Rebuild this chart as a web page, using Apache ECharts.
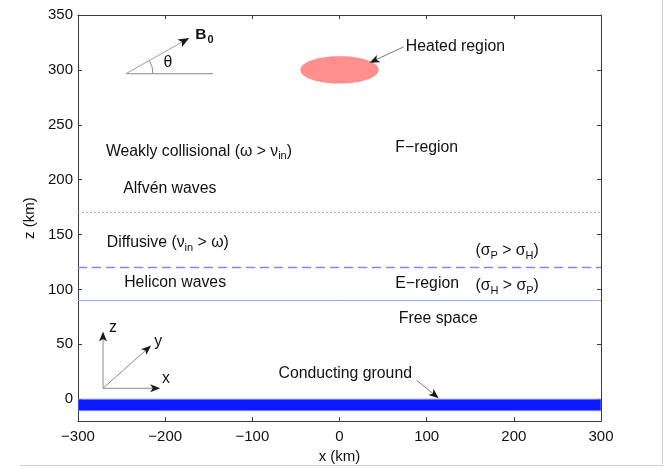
<!DOCTYPE html>
<html><head><meta charset="utf-8">
<script src="https://cdn.jsdelivr.net/npm/echarts@6/dist/echarts.min.js"></script>
<style>html,body{margin:0;padding:0;background:#fff}#c{width:664px;height:469px}</style>
</head><body><div id="c"></div>
<script>
// ---- data ----
const xTicks = [-300, -200, -100, 0, 100, 200, 300];
const zTicks = [0, 50, 100, 150, 200, 250, 300, 350];
const xRange = [-300, 300];
const zRange = [-20, 350];
const boundaryDotted = [170];   // km
const boundaryDashed = [120];
const boundarySolid = [90];
const groundBand = [-10.5, 0];   // z extent of conducting ground (km)
const heatedCenter = [0, 300];
const heatedRadii = [45, 12.5];
const annoX = [-268, -248, -267, -247, 64, 156, 64, 156, 68, -70, 76, -202];
const annoZ = [227.6, 192.2, 144.1, 106.1, 229.4, 136.9, 105.1, 105.1, 73.4, 23.5, 321, 306.5];
const annoText = [
  'Weakly collisional (ω > ν{s|in})',
  'Alfvén waves',
  'Diffusive (ν{s|in} > ω)',
  'Helicon waves',
  'F−region',
  '(σ{s|P} > σ{s|H})',
  'E−region',
  '(σ{s|H} > σ{s|P})',
  'Free space',
  'Conducting ground',
  'Heated region',
  'θ'
];
const bLabel = [-165.5, 334];
// arrows: [x1, z1, x2, z2]
const bArrow = [[-245, 296.5, -172.4, 329.1]];
const pointerArrows = [[73.6, 321, 34.5, 306.5], [88.5, 17.2, 113.8, 0.9]];
const triadArrows = [[-271.3, 9.9, -271.3, 61.6], [-271.3, 9.9, -216.1, 48.9], [-271.3, 9.9, -205.7, 9.9]];
const triadLabelX = [-259.8, -208, -199];
const triadLabelZ = [65.2, 52.5, 19];
const triadLabelText = ['z', 'y', 'x'];
const refLine = [[-245, 296.5, -145, 296.5]];

const FONT = '"Liberation Sans", Arial, Helvetica, sans-serif';
const TXT = 15.8;
const minus = v => String(v).replace('-', '−');

function arrowItem(lineColor, hl, hw) {
  return function (params, api) {
    const p1 = api.coord([api.value(0), api.value(1)]);
    const p2 = api.coord([api.value(2), api.value(3)]);
    const dx = p2[0] - p1[0], dy = p2[1] - p1[1];
    const L = Math.hypot(dx, dy), ux = dx / L, uy = dy / L;
    const bx = p2[0] - ux * hl, by = p2[1] - uy * hl;
    const nx = p2[0] - ux * hl * 0.75, ny = p2[1] - uy * hl * 0.75;
    return { type: 'group', children: [
      { type: 'line', shape: { x1: p1[0], y1: p1[1], x2: nx, y2: ny }, style: { stroke: lineColor, lineWidth: 1 } },
      { type: 'polygon', shape: { points: [[p2[0], p2[1]], [bx - uy * hw, by + ux * hw], [nx, ny], [bx + uy * hw, by - ux * hw]] }, style: { fill: '#1a1a1a' } }
    ] };
  };
}

const richSub = {
  s: { fontSize: 11, fontFamily: FONT, padding: [10, 0, 0, 0], fill: '#111' }
};

function boundarySeries(z, color, dash, width) {
  return { type: 'custom', silent: true, clip: false,
    data: [[xRange[0], z, xRange[1], z]], encode: { x: [0, 2], y: [1, 3] },
    renderItem: (params, api) => {
      const a = api.coord([api.value(0), api.value(1)]);
      const b = api.coord([api.value(2), api.value(3)]);
      const y = Math.round(a[1] - 0.5) + 0.5;
      return { type: 'line', shape: { x1: a[0], y1: y, x2: b[0], y2: y },
        style: { stroke: color, lineWidth: width, lineDash: dash } };
    } };
}

const chart = echarts.init(document.getElementById('c'));
const axisLineStyle = { color: '#3a3a3a', width: 1 };
chart.setOption({
  animation: false,
  backgroundColor: '#fff',
  grid: { left: 78, right: 63, top: 15, bottom: 46, containLabel: false },
  xAxis: [{
    type: 'value', min: xRange[0], max: xRange[1], interval: 100, position: 'bottom',
    axisLine: { show: true, onZero: false, lineStyle: axisLineStyle },
    axisTick: { inside: true, length: 4, lineStyle: axisLineStyle },
    axisLabel: { formatter: minus, fontSize: 15, color: '#111', margin: 8, fontFamily: FONT },
    splitLine: { show: false },
    name: 'x (km)', nameLocation: 'middle', nameGap: 26,
    nameTextStyle: { fontSize: 15, color: '#111', fontFamily: FONT }
  }, {
    type: 'value', min: xRange[0], max: xRange[1], interval: 100, position: 'top',
    axisLine: { show: true, onZero: false, lineStyle: axisLineStyle },
    axisTick: { inside: true, length: 4, lineStyle: axisLineStyle },
    axisLabel: { show: false }, splitLine: { show: false }
  }],
  yAxis: [{
    type: 'value', min: zRange[0], max: zRange[1], position: 'left',
    axisLine: { show: true, onZero: false, lineStyle: axisLineStyle },
    axisTick: { inside: true, length: 4, lineStyle: axisLineStyle, customValues: zTicks },
    axisLabel: { fontSize: 15, color: '#111', margin: 5, fontFamily: FONT, customValues: zTicks },
    splitLine: { show: false },
    name: 'z (km)', nameLocation: 'middle', nameGap: 36,
    nameTextStyle: { fontSize: 15, color: '#111', fontFamily: FONT }
  }, {
    type: 'value', min: zRange[0], max: zRange[1], position: 'right',
    axisLine: { show: true, onZero: false, lineStyle: axisLineStyle },
    axisTick: { inside: true, length: 4, lineStyle: axisLineStyle, customValues: zTicks },
    axisLabel: { show: false }, splitLine: { show: false }
  }],
  graphic: [
    { type: 'line', shape: { x1: 662.5, y1: 0, x2: 662.5, y2: 465.5 }, style: { stroke: '#cfcfcf', lineWidth: 1 } },
    { type: 'line', shape: { x1: 20, y1: 465.5, x2: 662.5, y2: 465.5 }, style: { stroke: '#cfcfcf', lineWidth: 1 } }
  ],
  series: [
    boundarySeries(boundaryDotted[0], '#9090ff', [1.5, 2.5], 1.2),
    boundarySeries(boundaryDashed[0], '#8585ff', [9, 5], 1.4),
    boundarySeries(boundarySolid[0], '#a4a4ff', null, 1),
    { type: 'custom', silent: true, clip: true,
      data: [[xRange[0], groundBand[1], xRange[1], groundBand[0]]],
      encode: { x: [0, 2], y: [1, 3] },
      renderItem: (params, api) => {
        const a = api.coord([api.value(0), api.value(1)]);
        const b = api.coord([api.value(2), api.value(3)]);
        return { type: 'rect', shape: { x: a[0], y: a[1], width: b[0] - a[0], height: b[1] - a[1] },
          style: { fill: '#0a1cff', stroke: '#8c8cff', lineWidth: 0.8 } };
      } },
    { type: 'custom', silent: true, clip: false,
      data: [[heatedCenter[0], heatedCenter[1], heatedRadii[0], heatedRadii[1]]],
      encode: { x: 0, y: 1 },
      renderItem: (params, api) => {
        const cx = api.value(0), cz = api.value(1), rx = api.value(2), rz = api.value(3);
        const pts = [];
        for (let i = 0; i < 90; i++) {
          const t = i / 90 * Math.PI * 2;
          pts.push(api.coord([cx + rx * Math.cos(t), cz + rz * Math.sin(t)]));
        }
        return { type: 'polygon', shape: { points: pts }, style: { fill: '#ff8f8f' } };
      } },
    { type: 'custom', silent: true, clip: false, data: refLine, encode: { x: [0, 2], y: [1, 3] },
      renderItem: (params, api) => {
        const a = api.coord([api.value(0), api.value(1)]);
        const b = api.coord([api.value(2), api.value(3)]);
        return { type: 'line', shape: { x1: a[0], y1: a[1], x2: b[0], y2: b[1] }, style: { stroke: '#8a8a8a', lineWidth: 1 } };
      } },
    { type: 'custom', silent: true, clip: false, data: bArrow, encode: { x: [0, 2], y: [1, 3] },
      renderItem: (params, api) => {
        const base = arrowItem('#a0a0a0', 11, 4.5)(params, api);
        const p1 = api.coord([api.value(0), api.value(1)]);
        const p2 = api.coord([api.value(2), api.value(3)]);
        const ang = Math.atan2(p2[1] - p1[1], p2[0] - p1[0]);
        base.children.push({ type: 'arc', shape: { cx: p1[0], cy: p1[1], r: 27, startAngle: ang, endAngle: 0 },
          style: { stroke: '#8a8a8a', lineWidth: 1, fill: null } });
        return base;
      } },
    { type: 'custom', silent: true, clip: false, data: pointerArrows, encode: { x: [0, 2], y: [1, 3] },
      renderItem: arrowItem('#7a7a7a', 10, 4) },
    { type: 'custom', silent: true, clip: false, data: triadArrows, encode: { x: [0, 2], y: [1, 3] },
      renderItem: arrowItem('#8a8a8a', 10, 4) },
    { type: 'custom', silent: true, clip: false,
      data: annoX.map((x, i) => [x, annoZ[i], i]), encode: { x: 0, y: 1 },
      renderItem: (params, api) => {
        const p = api.coord([api.value(0), api.value(1)]);
        const t = annoText[api.value(2)];
        const hasSub = t.indexOf('{s|') >= 0;
        return { type: 'text', x: p[0], y: p[1] + (hasSub ? 2 : 0),
          style: { text: t, fill: '#111', fontSize: TXT, fontFamily: FONT, align: 'left', verticalAlign: 'middle', rich: richSub } };
      } },
    { type: 'custom', silent: true, clip: false,
      data: triadLabelX.map((x, i) => [x, triadLabelZ[i], i]), encode: { x: 0, y: 1 },
      renderItem: (params, api) => {
        const p = api.coord([api.value(0), api.value(1)]);
        return { type: 'text', x: p[0], y: p[1],
          style: { text: triadLabelText[api.value(2)], fill: '#111', fontSize: TXT, fontFamily: FONT, align: 'center', verticalAlign: 'middle' } };
      } },
    { type: 'custom', silent: true, clip: false, data: [bLabel], encode: { x: 0, y: 1 },
      renderItem: (params, api) => {
        const p = api.coord([api.value(0), api.value(1)]);
        return { type: 'text', x: p[0], y: p[1] + 2,
          style: { text: '{b|B}{bs|0}', fill: '#111', align: 'left', verticalAlign: 'middle',
            rich: { b: { fontSize: 15.5, fontWeight: 'bold', fontFamily: FONT, fill: '#111' },
                    bs: { fontSize: 11, fontWeight: 'bold', fontFamily: FONT, fill: '#111', padding: [10, 0, 0, 1] } } } };
      } }
  ]
});
</script></body></html>
